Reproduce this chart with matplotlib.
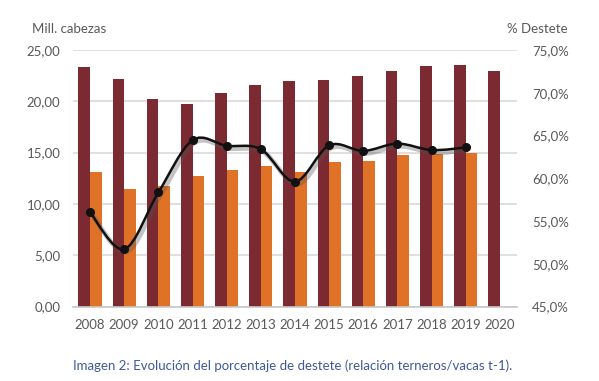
import numpy as np
import matplotlib
matplotlib.use('Agg')
import matplotlib.pyplot as plt
from matplotlib.path import Path
from matplotlib.patches import PathPatch
import matplotlib.patheffects as pe
from matplotlib.ticker import FuncFormatter

years = ["2008", "2009", "2010", "2011", "2012", "2013", "2014",
         "2015", "2016", "2017", "2018", "2019", "2020"]
# millones de cabezas (vacas / terneros)
vacas = [23.37, 22.14, 20.2, 19.77, 20.78, 21.62, 22.0,
         22.08, 22.5, 22.95, 23.44, 23.5, 22.95]
terneros = [13.14, 11.45, 11.77, 12.75, 13.27, 13.72, 13.14,
            14.05, 14.2, 14.73, 14.86, 14.96]
# % destete
destete = [56.0, 51.7, 58.35, 64.45, 63.8, 63.4, 59.6,
           63.85, 63.2, 64.05, 63.3, 63.6]

DARK = "#7a2a30"
ORANGE = "#e07227"
GRID = "#d9d9d9"
TXT = "#595959"
FONT = "Lato"

plt.rcParams['font.family'] = FONT

fig = plt.figure(figsize=(5.99, 3.81), dpi=100, facecolor="white")
ax = fig.add_axes([73/599, 1 - 306.5/381, 444/599, 256.5/381])
ax2 = ax.twinx()

x = np.arange(len(years))
w = 0.34
ax.bar(x - w/2, vacas, width=w, color=DARK, zorder=2)
ax.bar(x[:len(terneros)] + w/2, terneros, width=w, color=ORANGE, zorder=2)

ax.set_xlim(-0.5, len(years) - 0.5)
ax.set_ylim(0, 25)
ax.set_yticks(np.arange(0, 26, 5))
ax.yaxis.set_major_formatter(FuncFormatter(lambda v, p: f"{v:.2f}".replace(".", ",")))
ax.grid(axis="y", color=GRID, linewidth=1.2, zorder=0)
ax.set_axisbelow(True)
ax.set_xticks(x)
ax.set_xticklabels(years)

ax2.set_ylim(45, 75)
ax2.set_yticks(np.arange(45, 76, 5))
ax2.yaxis.set_major_formatter(FuncFormatter(lambda v, p: f"{v:.1f}%".replace(".", ",")))

for a in (ax, ax2):
    for s in a.spines.values():
        s.set_visible(False)
    a.tick_params(length=0, colors=TXT, labelsize=9.5)
ax.tick_params(axis="y", pad=9)
ax.tick_params(axis="x", pad=9)
ax2.tick_params(axis="y", pad=11)
ax.spines["bottom"].set_visible(True)
ax.spines["bottom"].set_color("#c8c8c8")
ax.spines["bottom"].set_linewidth(1.2)

# smoothed line (Catmull-Rom style bezier through the data points)
xd = x[:len(destete)].astype(float)
yd = np.array(destete)
pts = np.column_stack([xd, yd])
verts = [pts[0]]
codes = [Path.MOVETO]
n = len(pts)
for i in range(n - 1):
    p0 = pts[i - 1] if i > 0 else pts[i]
    p1 = pts[i]
    p2 = pts[i + 1]
    p3 = pts[i + 2] if i + 2 < n else pts[i + 1]
    c1 = p1 + (p2 - p0) / 6
    c2 = p2 - (p3 - p1) / 6
    verts += [c1, c2, p2]
    codes += [Path.CURVE4] * 3
shadow = [pe.SimpleLineShadow(offset=(1.5, -1.8), shadow_color="#555555", alpha=0.35, linewidth=3.5),
          pe.Normal()]
curve = PathPatch(Path(verts, codes), facecolor="none", edgecolor="#111111",
                  linewidth=1.8, zorder=4, path_effects=shadow)
ax2.add_patch(curve)
ax2.plot(xd, yd, linestyle="none", marker="o", markersize=5.5, color="#111111", zorder=5)

fig.text(32/599, 1 - 29/381, "Mill. cabezas", color=TXT, fontsize=9.5, va="center", ha="left")
fig.text(507/599, 1 - 29/381, "% Destete", color=TXT, fontsize=9.5, va="center", ha="left")
fig.text(73/599, 1 - 366/381, "Imagen 2: Evolución del porcentaje de destete (relación terneros/vacas t-1).",
         color="#3d5a99", fontsize=9.5, va="center", ha="left")

fig.savefig("out.png", dpi=100, facecolor="white")
